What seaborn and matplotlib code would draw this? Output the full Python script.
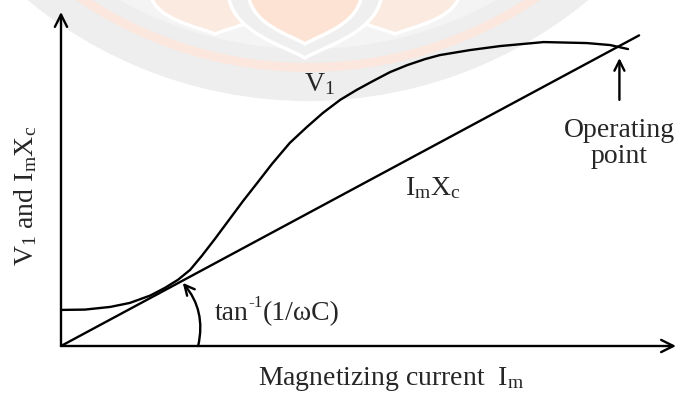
import numpy as np
import pandas as pd
import seaborn as sns
import matplotlib
matplotlib.use("Agg")
import matplotlib.pyplot as plt
from matplotlib.patches import Circle, PathPatch
from matplotlib.path import Path
from matplotlib.transforms import IdentityTransform

# Magnetizing characteristic of the self-excited machine (arbitrary units)
im_v1 = [0.00, 0.39, 0.80, 1.12, 1.45, 1.69, 1.90, 2.10, 2.29, 2.50,
         2.73, 2.96, 3.19, 3.43, 3.72, 4.00, 4.26, 4.54, 4.81, 5.07,
         5.35, 5.63, 5.92, 6.16, 6.65, 7.14, 7.85, 8.55, 8.93, 9.22]
v1 = [1.08, 1.09, 1.17, 1.29, 1.51, 1.74, 1.98, 2.28, 2.70, 3.20,
      3.77, 4.34, 4.88, 5.45, 6.08, 6.56, 6.98, 7.37, 7.67, 7.93,
      8.20, 8.41, 8.59, 8.71, 8.86, 8.98, 9.10, 9.07, 9.01, 8.89]

# Capacitor line Im*Xc, slope 1/(wC)
im_line = [0.0, 9.4]
imxc = [0.0, 9.3]

# Operating point marker and angle annotation positions
op_x = 9.08
op_arrow_y = [7.37, 8.62]
angle_start = (2.23, 0.0)
angle_end = (1.98, 1.89)

sns.set_theme(style="white")
plt.rcParams["font.family"] = ["Liberation Serif", "DejaVu Serif"]
plt.rcParams["mathtext.default"] = "regular"

W, H = 680, 394
fig = plt.figure(figsize=(W / 100, H / 100), dpi=100)
fig.patch.set_facecolor("white")


# ---- faint emblem in the background (pixel units, top-left origin) ----
def px(x, y):
    return (x, H - y)


def ring(cx, cy, r, color):
    fig.patches.append(Circle(px(cx, cy), r, transform=IdentityTransform(),
                              facecolor=color, edgecolor="none", zorder=-5))


def petal(xl, xr, xt, yt, face, edge="white", lw=2.5, z=-4):
    top = -10
    w = xr - xl
    verts = [px(xl, top),
             px(xl, yt * 0.55), px(xt - w * 0.12, yt * 0.8), px(xt, yt),
             px(xt + w * 0.12, yt * 0.8), px(xr, yt * 0.55), px(xr, top),
             px(xl, top)]
    codes = [Path.MOVETO, Path.CURVE4, Path.CURVE4, Path.CURVE4,
             Path.CURVE4, Path.CURVE4, Path.CURVE4, Path.CLOSEPOLY]
    fig.patches.append(PathPatch(Path(verts, codes), transform=IdentityTransform(),
                                 facecolor=face, edgecolor=edge, lw=lw, zorder=z))


ecx, ecy, er = 308, -339, 440
ring(ecx, ecy, er, "#eeeeee")
ring(ecx, ecy, er - 29, "#fbe7dd")
ring(ecx, ecy, er - 38, "#eeeeee")
ring(ecx, ecy, er - 52, "#f4f4f4")
petal(150, 280, 215, 34, "#fbeae0", z=-4)
petal(330, 460, 395, 34, "#fbeae0", z=-4)
petal(228, 382, 305, 58, "#efefef", z=-3)
petal(248, 362, 305, 44, "#fce3d3", z=-2)

x0, y0, x1, y1 = 61, 346, 676, 12
ax = fig.add_axes([x0 / W, (H - y0) / H, (x1 - x0) / W, (y0 - y1) / H])
ax.set_xlim(0, 10)
ax.set_ylim(0, 10)
ax.set_facecolor("none")
for s in ax.spines.values():
    s.set_visible(False)
ax.set_xticks([])
ax.set_yticks([])

lw = 1.7
df_v1 = pd.DataFrame({"Im": im_v1, "V": v1})
df_line = pd.DataFrame({"Im": im_line, "V": imxc})
sns.lineplot(data=df_v1, x="Im", y="V", ax=ax, color="black", lw=lw, sort=False,
             estimator=None, clip_on=False, solid_joinstyle="round")
sns.lineplot(data=df_line, x="Im", y="V", ax=ax, color="black", lw=lw, sort=False,
             estimator=None, clip_on=False)
ax.set_xlabel("")
ax.set_ylabel("")

# Axes drawn as arrows
arrow_kw = dict(arrowstyle="->", lw=lw, color="black", shrinkA=0, shrinkB=0,
                mutation_scale=22)
ax.annotate("", xy=(0, 1), xytext=(0, 0), xycoords="axes fraction",
            textcoords="axes fraction", arrowprops=arrow_kw)
ax.annotate("", xy=(1, 0), xytext=(0, 0), xycoords="axes fraction",
            textcoords="axes fraction", arrowprops=arrow_kw)

# Operating point arrow
ax.annotate("", xy=(op_x, op_arrow_y[1]), xytext=(op_x, op_arrow_y[0]),
            arrowprops=dict(arrowstyle="->", lw=lw, color="black",
                            shrinkA=0, shrinkB=0, mutation_scale=18))

# Angle arc
ax.annotate("", xy=angle_end, xytext=angle_start,
            arrowprops=dict(arrowstyle="->", lw=lw, color="black",
                            shrinkA=0, shrinkB=0, mutation_scale=18,
                            connectionstyle="arc3,rad=0.25"))

fs = 20
ax.text(3.95, 7.63, "V$_1$", fontsize=fs, ha="left", va="baseline")
ax.text(5.59, 4.52, "I$_m$X$_c$", fontsize=fs, ha="left", va="baseline")
ax.text(op_x, 6.83, "Operating\npoint", fontsize=fs, ha="center", va="top",
        linespacing=1.05)

t_tan = ax.text(2.50, 0.78, "tan", fontsize=fs, ha="left", va="baseline")
t_sup = ax.annotate("-1", xy=(1.0, 0.58), xycoords=t_tan, fontsize=fs * 0.62,
                    ha="left", va="bottom")
ax.annotate("(1/ωC)", xy=(1.0, 0.0), xycoords=(t_sup, t_tan), fontsize=fs,
            ha="left", va="bottom")

fig.text(391 / W, (H - 385) / H, "Magnetizing current  I$_m$", fontsize=fs,
         ha="center", va="baseline")
fig.text(33 / W, (H - 196) / H, "V$_1$ and I$_m$X$_c$", fontsize=fs,
         rotation=90, rotation_mode="anchor", ha="center", va="baseline")

fig.savefig("out.png", dpi=100, facecolor="white")
